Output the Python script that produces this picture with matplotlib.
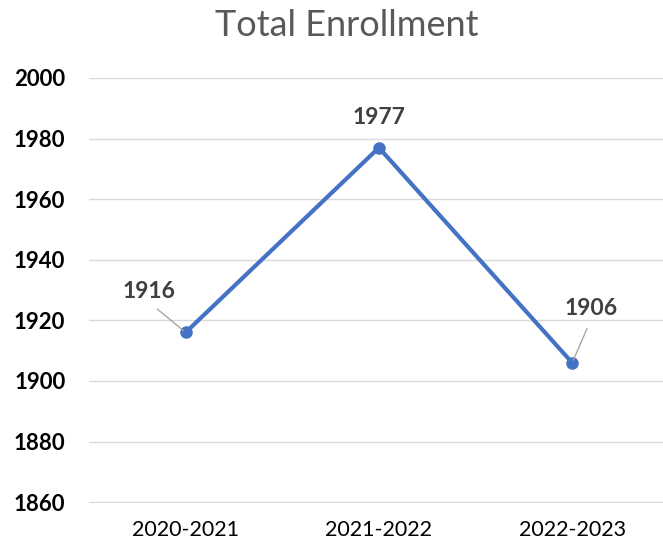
import matplotlib.pyplot as plt

# data
years = ['2020-2021', '2021-2022', '2022-2023']
enrollment = [1916, 1977, 1906]
yticks = [1860, 1880, 1900, 1920, 1940, 1960, 1980, 2000]

plt.rcParams['font.family'] = ['Lato', 'DejaVu Sans']

fig = plt.figure(figsize=(6.63, 5.48), dpi=100)
ax = fig.add_axes([89/663, 1 - 503/548, 1 - 89/663, (503 - 78)/548])

x = list(range(len(years)))
ax.plot(x, enrollment, color='#4472C4', lw=3, marker='o', ms=8, clip_on=False, zorder=3)

ax.set_ylim(1859.7, 2000)
ax.set_xlim(-0.5, 2.47)
ax.set_yticks(yticks)
ax.set_yticklabels([str(v) for v in yticks], fontsize=16, fontweight='bold', color='black')
ax.set_xticks(x)
ax.set_xticklabels(years, fontsize=15.5, color='black')
ax.tick_params(length=0)
ax.tick_params(axis='y', pad=17)
ax.tick_params(axis='x', pad=12)
ax.grid(axis='y', color='#D9D9D9', lw=1)
ax.set_axisbelow(True)
for s in ax.spines.values():
    s.set_visible(False)

# data labels (offsets in pixels)
offsets = [(-37, 41), (0, 30), (19, 54)]
leader = [True, False, True]
for xi, v, off, ld in zip(x, enrollment, offsets, leader):
    kw = {}
    if ld:
        kw['arrowprops'] = dict(arrowstyle='-', color='#A6A6A6', lw=1,
                                shrinkA=5, shrinkB=2, relpos=(0.5, 0))
    ax.annotate(str(v), (xi, v), xytext=off, textcoords='offset pixels',
                ha='center', va='center', fontsize=16.5, fontweight='bold',
                color='#404040', **kw)

fig.text(347/663, 1 - 25/548, 'Total Enrollment', ha='center', va='center',
         fontsize=26, color='#595959')

fig.savefig('out.png', dpi=100)
